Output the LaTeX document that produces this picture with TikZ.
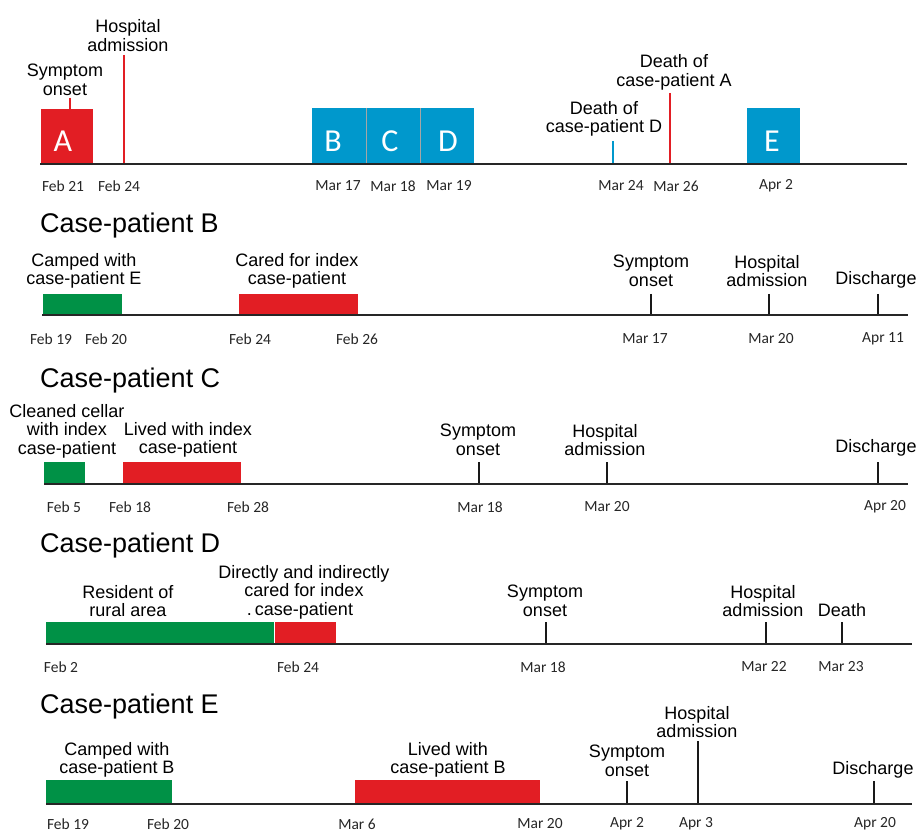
\documentclass[tikz,border=0pt]{standalone}
\usepackage{fontspec}
\setmainfont{Liberation Sans}
\newfontfamily\datefont{Carlito}
\definecolor{ebred}{RGB}{226,30,36}
\definecolor{ebgreen}{RGB}{0,145,70}
\definecolor{ebblue}{RGB}{0,152,204}

\begin{document}
\begin{tikzpicture}[x=1pt,y=-1pt,
    lbl/.style={align=center,inner sep=0pt,font=\fontsize{18}{18.5}\selectfont},
    ttl/.style={anchor=base west,inner sep=0pt,font=\fontsize{27}{30}\selectfont},
    dte/.style={inner sep=0pt,text=black!85,font=\datefont\fontsize{15.5}{17}\selectfont},
    ltr/.style={inner sep=0pt,text=white,font=\datefont\fontsize{32}{34}\selectfont},
    axisln/.style={line width=1.8pt,black!85},
    evt/.style={line width=2.4pt,black!90}]

    \useasboundingbox (0,0) rectangle (919,834);

    % overview
    \fill[ebred] (41,109) rectangle (93,164);
    \fill[ebblue] (312,108) rectangle (474,164);
    \fill[ebblue] (747,108) rectangle (800,164);
    \draw[black!35,line width=0.8pt] (366,108) -- (366,164) (420,108) -- (420,164);
    \node[ltr] (A) at (63,141) {A};
    \node[ltr] (B) at (333,141) {B};
    \node[ltr] (C) at (390,141) {C};
    \node[ltr] (D) at (448,141) {D};
    \node[ltr] (E) at (772,141) {E};
    \draw[ebred,line width=2pt] (70,98) -- (70,109);
    \draw[ebred,line width=2pt] (124,55) -- (124,164);
    \draw[ebblue,line width=2pt] (613,141) -- (613,164);
    \draw[ebred,line width=2pt] (670,93) -- (670,164);
    \draw[axisln] (40,164) -- (907,164);
    \node[lbl] (aOnset) at (65,80) {Symptom\\onset};
    \node[lbl] (aAdm) at (128,35.5) {Hospital\\admission};
    \node[lbl] (dDeath) at (604,119) {Death of\\case-patient D};
    \node[lbl] (aDeath) at (674,72.5) {Death of\\case-patient A};
    \foreach \x/\d [count=\i] in {63/Feb 21,119/Feb 24,338/Mar 17,393/Mar 18,449/Mar 19,621/Mar 24,676/Mar 26,776/Apr 2}
        \node[dte] (t\i) at (\x,186) {\d};

    % case-patient B
    \node[ttl] (bTitle) at (40,233) {Case-patient B};
    \fill[ebgreen] (43,294) rectangle (122,315);
    \fill[ebred] (239,294) rectangle (358,315);
    \draw[evt] (651,294) -- (651,315);
    \draw[evt] (769,294) -- (769,315);
    \draw[evt] (878,294) -- (878,315);
    \draw[axisln] (42,315) -- (908,315);
    \node[lbl] (bCamp) at (84,271) {Camped with\\case-patient E};
    \node[lbl] (bCare) at (297,271) {Cared for index\\case-patient};
    \node[lbl] (bOnset) at (651,271) {Symptom\\onset};
    \node[lbl] (bAdm) at (767,271) {Hospital\\admission};
    \node[lbl] (bDis) at (876,280) {Discharge};
    \foreach \x/\d [count=\i] in {51/Feb 19,106/Feb 20,250/Feb 24,357/Feb 26,645/Mar 17,771/Mar 20,883/Apr 11}
        \node[dte] (b\i) at (\x,339) {\d};

    % case-patient C
    \node[ttl] (cTitle) at (40,388) {Case-patient C};
    \fill[ebgreen] (44,462) rectangle (85,484);
    \fill[ebred] (123,462) rectangle (241,484);
    \draw[evt] (479,462) -- (479,484);
    \draw[evt] (607,462) -- (607,484);
    \draw[evt] (878,462) -- (878,484);
    \draw[axisln] (44,484) -- (908,484);
    \node[lbl] (cCellar) at (67,431) {Cleaned cellar\\with index\\case-patient};
    \node[lbl] (cLived) at (188,440) {Lived with index\\case-patient};
    \node[lbl] (cOnset) at (478,440) {Symptom\\onset};
    \node[lbl] (cAdm) at (605,440) {Hospital\\admission};
    \node[lbl] (cDis) at (876,448) {Discharge};
    \foreach \x/\d [count=\i] in {64/Feb 5,130/Feb 18,248/Feb 28,480/Mar 18,607/Mar 20,885/Apr 20}
        \node[dte] (c\i) at (\x,507) {\d};

    % case-patient D
    \node[ttl] (dTitle) at (40,552) {Case-patient D};
    \fill[ebgreen] (46,622) rectangle (274,644);
    \fill[ebred] (275,622) rectangle (336,644);
    \draw[evt] (546,622) -- (546,644);
    \draw[evt] (766,622) -- (766,644);
    \draw[evt] (842,622) -- (842,644);
    \draw[axisln] (46,644) -- (912,644);
    \node[lbl] (dRes) at (128,601) {Resident of\\rural area};
    \node[lbl] (dCare) at (304,592) {Directly and indirectly\\cared for index\\\llap{.\,}case-patient};
    \node[lbl] (dOnset) at (545,601) {Symptom\\onset};
    \node[lbl] (dAdm) at (763,601) {Hospital\\admission};
    \node[lbl] (dDie) at (842,610) {Death};
    \foreach \x/\d [count=\i] in {61/Feb 2,298/Feb 24,543/Mar 18,764/Mar 22,841/Mar 23}
        \node[dte] (d\i) at (\x,667) {\d};

    % case-patient E
    \node[ttl] (eTitle) at (40,713) {Case-patient E};
    \fill[ebgreen] (46,780) rectangle (172,804);
    \fill[ebred] (355,780) rectangle (540,804);
    \draw[evt] (627,781) -- (627,804);
    \draw[evt] (698,741) -- (698,804);
    \draw[evt] (874,781) -- (874,804);
    \draw[axisln] (46,804) -- (912,804);
    \node[lbl] (eCamp) at (117,760) {Camped with\\case-patient B};
    \node[lbl] (eLived) at (448,760) {Lived with\\case-patient B};
    \node[lbl] (eOnset) at (627,761) {Symptom\\onset};
    \node[lbl] (eAdm) at (697,722) {Hospital\\admission};
    \node[lbl] (eDis) at (873,770) {Discharge};
    \foreach \x/\d [count=\i] in {68/Feb 19,168/Feb 20,357/Mar 6,540/Mar 20,627/Apr 2,696/Apr 3,875/Apr 20}
        \node[dte] (e\i) at (\x,824) {\d};
\end{tikzpicture}
\end{document}
